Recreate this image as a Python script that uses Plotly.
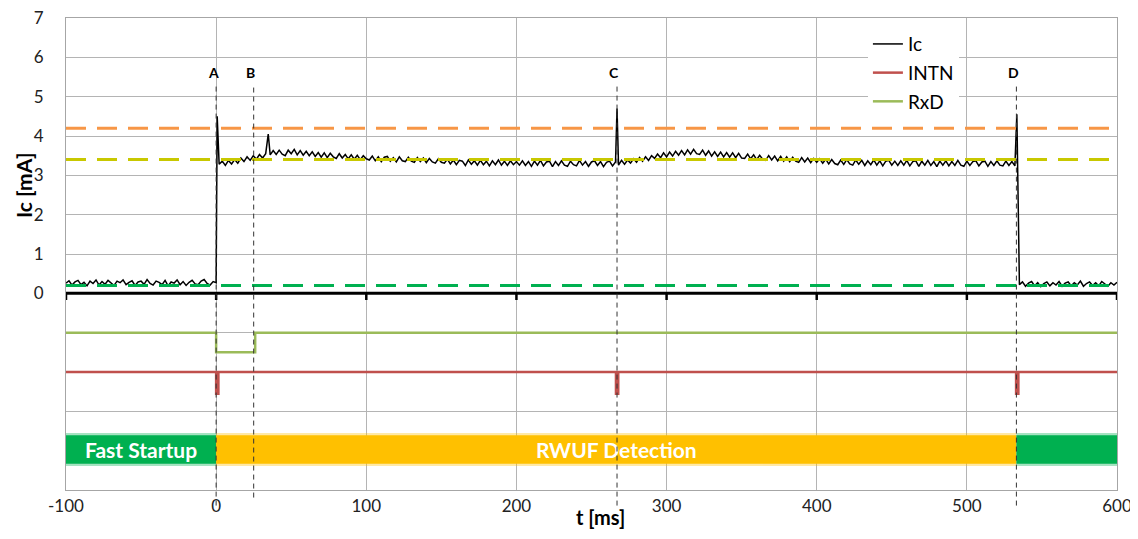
import numpy as np
import plotly.graph_objects as go

# ---------------- data ----------------
x_ticks = [-100, 0, 100, 200, 300, 400, 500, 600]
x_labels = ["-100", "0", "100", "200", "300", "400", "500", "600"]
y_ticks = [-5, -4, -3, -2, -1, 0, 1, 2, 3, 4, 5, 6, 7]
y_labels = ["", "", "", "", "", "0", "1", "2", "3", "4", "5", "6", "7"]

# Ic [mA] segments (start time, end time) and sampled values
ic_pre_span = (-100, 0)
ic_pre = [0.26, 0.32, 0.21, 0.29, 0.33, 0.22, 0.28, 0.19, 0.31, 0.25,
          0.34, 0.21, 0.30, 0.23, 0.33, 0.26, 0.20, 0.31, 0.27, 0.34,
          0.22, 0.28, 0.32, 0.20, 0.29, 0.31, 0.23, 0.35, 0.25, 0.21,
          0.31, 0.28, 0.22, 0.33, 0.19, 0.29, 0.26, 0.34, 0.22, 0.30,
          0.20, 0.28, 0.33, 0.24, 0.22, 0.31, 0.35, 0.25, 0.21, 0.30, 0.27]
ic_wake_span = (2, 33)
ic_wake = [3.28, 3.36, 3.25, 3.38, 3.29, 3.40, 3.31, 3.44, 3.35, 3.47,
           3.38, 3.50, 3.41, 3.53, 3.44, 3.55]
ic_mid_span = (36, 266)
ic_mid = [3.52, 3.63, 3.53, 3.64, 3.54, 3.50, 3.64, 3.55, 3.66, 3.52, 3.63, 3.51, 3.61,
          3.50, 3.60, 3.48, 3.58, 3.46, 3.57, 3.45, 3.56, 3.47, 3.43, 3.55, 3.44, 3.53,
          3.42, 3.52, 3.41, 3.51, 3.40, 3.50, 3.42,
          3.39, 3.49, 3.37, 3.47, 3.35, 3.46, 3.48, 3.36, 3.45, 3.34, 3.47, 3.37, 3.35,
          3.46, 3.36, 3.33, 3.45, 3.35, 3.44, 3.32, 3.43, 3.34, 3.31, 3.42, 3.33,
          3.31, 3.41, 3.29, 3.39, 3.27, 3.38, 3.36, 3.25, 3.39, 3.28, 3.37, 3.26, 3.38,
          3.27, 3.36, 3.24, 3.37, 3.27, 3.39, 3.26, 3.36, 3.25, 3.37, 3.27, 3.35,
          3.26, 3.37, 3.25, 3.35, 3.23, 3.36, 3.26, 3.38, 3.24, 3.34, 3.36, 3.22, 3.35,
          3.25, 3.37, 3.26, 3.23, 3.36, 3.27, 3.24, 3.38, 3.26, 3.35, 3.23, 3.34, 3.37,
          3.25, 3.35, 3.22, 3.33, 3.36, 3.24, 3.34]
ic_late_span = (268, 532)
ic_late = [3.26, 3.38, 3.28, 3.39, 3.31, 3.42, 3.33, 3.45, 3.36, 3.47, 3.38, 3.50,
           3.43, 3.54, 3.45, 3.57, 3.47, 3.59, 3.49, 3.61, 3.51, 3.63, 3.52, 3.65, 3.54,
           3.66, 3.55,
           3.53, 3.64, 3.51, 3.62, 3.49, 3.60, 3.48, 3.59, 3.47, 3.58, 3.46, 3.57, 3.45,
           3.56, 3.44,
           3.43, 3.54, 3.42, 3.52, 3.40, 3.51, 3.41, 3.38, 3.50, 3.39, 3.49, 3.37, 3.48,
           3.36, 3.47, 3.35, 3.46, 3.36, 3.33, 3.45, 3.34, 3.44, 3.32, 3.43, 3.33,
           3.42, 3.31, 3.41, 3.29, 3.40, 3.30, 3.27, 3.39, 3.28, 3.40, 3.29, 3.26, 3.39,
           3.28, 3.38, 3.25, 3.37, 3.27, 3.39, 3.26, 3.37, 3.24, 3.36, 3.38, 3.26,
           3.36, 3.25, 3.37, 3.26, 3.38, 3.24, 3.35, 3.37, 3.23, 3.36, 3.26, 3.38, 3.25,
           3.35, 3.22, 3.36, 3.26, 3.37, 3.24, 3.35, 3.25, 3.38, 3.26, 3.23, 3.36, 3.25,
           3.35, 3.37, 3.24, 3.34, 3.36, 3.23, 3.35, 3.25, 3.37, 3.26, 3.24, 3.36, 3.25,
           3.35, 3.24]
ic_post_span = (535, 600)
ic_post = [0.22, 0.29, 0.18, 0.26, 0.30, 0.19, 0.27, 0.17, 0.25, 0.29, 0.19,
           0.27, 0.21, 0.30, 0.18, 0.26, 0.29, 0.19, 0.27, 0.21, 0.31, 0.18,
           0.25, 0.29, 0.20, 0.27, 0.19, 0.30, 0.23, 0.18, 0.27, 0.21, 0.28]
spike_t = [0.7, 34.7, 267.0, 533.3, 534.0]
spike_v = [4.50, 4.05, 4.70, 4.55, 2.50]

# threshold levels [mA]
thr_values = [4.2, 3.4, 0.2]
thr_colors = ["#F79646", "#C8C800", "#00B050"]

# digital signals (drawn on the lower part of the same axis)
rxd_t = [-100, 0, 0, 26, 26, 600]
rxd_v = [-1, -1, -1.5, -1.5, -1, -1]
intn_t = [-100, 0, 0, 1.5, 1.5, 266.3, 266.3, 267.8, 267.8, 532.8, 532.8, 534.3, 534.3, 600]
intn_v = [-2, -2, -2.55, -2.55, -2, -2, -2.55, -2.55, -2, -2, -2.55, -2.55, -2, -2]

# operating phases
phase_names = ["Fast Startup", "RWUF Detection", ""]
phase_start = [-100, 0, 533]
phase_end = [0, 533, 600]
phase_colors = ["#00B050", "#FFC000", "#00B050"]
phase_level = -3.97

# events
event_names = ["A", "B", "C", "D"]
event_t = [0, 25, 267, 533]

# ---------------- build ----------------
FONT = "Lato"

def seg(span, vals):
    return np.linspace(span[0], span[1], len(vals)), np.array(vals, dtype=float)

parts = [seg(ic_pre_span, ic_pre), seg(ic_wake_span, ic_wake), seg(ic_mid_span, ic_mid),
         seg(ic_late_span, ic_late), seg(ic_post_span, ic_post),
         (np.array(spike_t, dtype=float), np.array(spike_v, dtype=float))]
ic_t = np.concatenate([p[0] for p in parts])
ic_v = np.concatenate([p[1] for p in parts])
order = np.argsort(ic_t, kind="stable")
ic_t, ic_v = ic_t[order], ic_v[order]

fig = go.Figure()

# phase bars (soft edge + core)
durations = [e - s for s, e in zip(phase_start, phase_end)]
fig.add_trace(go.Bar(
    y=[phase_level] * len(phase_names), x=durations, base=phase_start,
    orientation="h", width=0.84, marker=dict(color=phase_colors, line=dict(width=0)),
    opacity=0.35, showlegend=False, hoverinfo="skip"))
fig.add_trace(go.Bar(
    y=[phase_level] * len(phase_names), x=durations, base=phase_start,
    orientation="h", width=0.72, marker=dict(color=phase_colors, line=dict(width=0)),
    text=phase_names, textposition="inside", insidetextanchor="middle",
    textangle=0, constraintext="none",
    insidetextfont=dict(family=FONT, size=21, color="white", weight="bold"),
    showlegend=False, hoverinfo="skip"))

fig.add_trace(go.Scatter(x=ic_t, y=ic_v, mode="lines", name="Ic",
                         line=dict(color="black", width=1.5), legendgroup="ic"))
fig.add_trace(go.Scatter(x=intn_t, y=intn_v, mode="lines", name="INTN",
                         line=dict(color="#C0504D", width=2.5), legendgroup="intn"))
fig.add_trace(go.Scatter(x=rxd_t, y=rxd_v, mode="lines", name="RxD",
                         line=dict(color="#9BBB59", width=2.5), legendgroup="rxd"))

for v, c in zip(thr_values, thr_colors):
    fig.add_trace(go.Scatter(x=[x_ticks[0], x_ticks[-1]], y=[v, v], mode="lines",
                             line=dict(color=c, width=3, dash="20px,11px"),
                             showlegend=False, hoverinfo="skip"))

shapes = []
# thick baseline of the current plot with small ticks
shapes.append(dict(type="line", xref="x", yref="y", x0=x_ticks[0], x1=x_ticks[-1],
                   y0=0, y1=0, line=dict(color="black", width=3), layer="above"))
for xt in x_ticks:
    shapes.append(dict(type="line", xref="x", yref="y", x0=xt, x1=xt, y0=0, y1=-0.17,
                       line=dict(color="black", width=2.5), layer="above"))
# event markers
annotations = []
for name, t in zip(event_names, event_t):
    bottom = -0.016 if name == "B" else -0.033
    shapes.append(dict(type="line", xref="x", yref="paper", x0=t, x1=t, y0=bottom, y1=0.858,
                       line=dict(color="#333333", width=1, dash="5px,4px"), layer="above"))
    annotations.append(dict(x=t - 2, y=0.884, xref="x", yref="paper", text=f"<b>{name}</b>",
                            xanchor="center", yanchor="middle",
                            showarrow=False, font=dict(family=FONT, size=14, color="black")))

annotations.append(dict(x=-0.041, y=2.75, xref="paper", yref="y", text="<b>Ic [mA]</b>",
                        textangle=-90, showarrow=False, xanchor="center", yanchor="middle",
                        font=dict(family=FONT, size=21, color="black")))
annotations.append(dict(x=0.509, y=-0.058, xref="paper", yref="paper", text="<b>t [ms]</b>",
                        showarrow=False, xanchor="center", yanchor="middle",
                        font=dict(family=FONT, size=20, color="black")))

# the page body has an 8px margin: size the figure so that it fits the window
fig.update_layout(
    width=1128, height=523,
    margin=dict(l=58, r=19, t=10, b=41, autoexpand=False),
    paper_bgcolor="white", plot_bgcolor="white",
    font=dict(family=FONT, color="#222222"),
    barmode="overlay",
    shapes=shapes, annotations=annotations,
    legend=dict(x=0.763, y=0.985, xanchor="left", yanchor="top", bgcolor="white",
                font=dict(family=FONT, size=19, color="black"), tracegroupgap=1,
                traceorder="grouped"),
    xaxis=dict(range=[x_ticks[0], x_ticks[-1]], tickvals=x_ticks, ticktext=x_labels,
               ticks="", automargin=False, ticklabeloverflow="allow",
               showgrid=True, gridcolor="#B4B4B4", gridwidth=1, zeroline=False,
               showline=True, mirror=True, linecolor="#A6A6A6", linewidth=1,
               tickfont=dict(family=FONT, size=17, color="#222222"), ticklabelstandoff=1),
    yaxis=dict(range=[y_ticks[0], y_ticks[-1]], tickvals=y_ticks, ticktext=y_labels, ticks="",
               automargin=False, ticklabeloverflow="allow",
               showgrid=True, gridcolor="#B4B4B4", gridwidth=1, zeroline=False,
               showline=True, mirror=True, linecolor="#A6A6A6", linewidth=1,
               tickfont=dict(family=FONT, size=17, color="#222222"), ticklabelstandoff=18),
)

fig.write_html("out.html")
